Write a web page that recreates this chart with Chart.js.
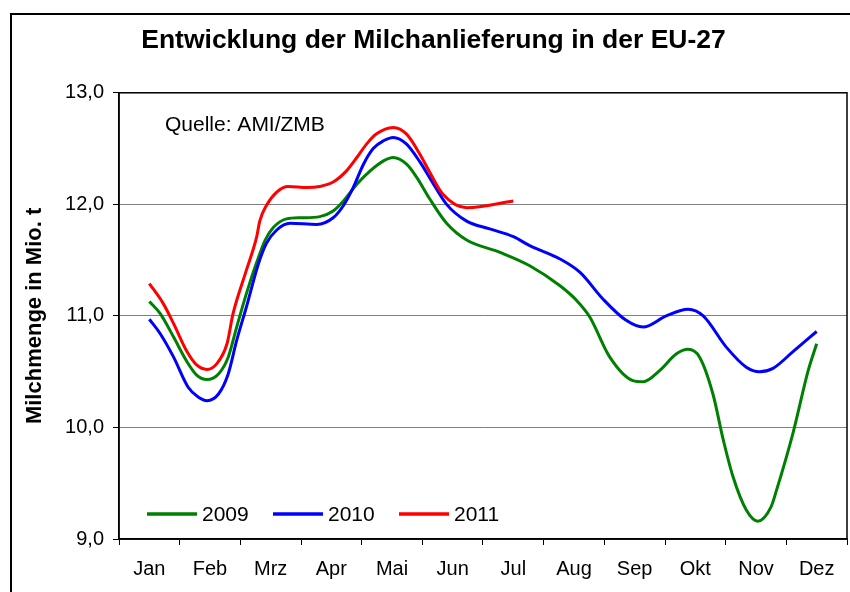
<!DOCTYPE html>
<html>
<head>
<meta charset="utf-8">
<script src="https://cdn.jsdelivr.net/npm/chart.js@4.4.1/dist/chart.umd.min.js"></script>
<style>
  html, body { margin: 0; padding: 0; background: #fff; }
  canvas { display: block; }
</style>
</head>
<body>
<canvas id="milkChart" width="850" height="592"></canvas>
<script>
// Monate (Kategorien der x-Achse)
var monthLabels = ['Jan', 'Feb', 'Mrz', 'Apr', 'Mai', 'Jun', 'Jul', 'Aug', 'Sep', 'Okt', 'Nov', 'Dez'];

// Position auf der Zeitachse (0 = Mitte Januar, 11 = Mitte Dezember) und Menge in Mio. t
var x2009 = [0, 0.18, 0.40, 0.62, 0.78, 0.95, 1.14, 1.30, 1.44, 1.60, 1.77, 1.91, 2.04, 2.26, 2.50, 2.81, 3.03, 3.20, 3.42, 3.64, 3.86, 4.02, 4.24, 4.41, 4.62, 4.90, 5.23, 5.78, 6.27, 6.77, 7.04, 7.26, 7.59, 7.97, 8.14, 8.41, 8.69, 8.88, 9.07, 9.29, 9.46, 9.62, 9.84, 10.03, 10.25, 10.34, 10.61, 10.86, 11.0];
var y2009 = [11.13, 11.02, 10.81, 10.59, 10.47, 10.43, 10.48, 10.63, 10.90, 11.20, 11.48, 11.68, 11.79, 11.87, 11.88, 11.89, 11.94, 12.03, 12.18, 12.30, 12.39, 12.42, 12.36, 12.24, 12.05, 11.83, 11.68, 11.57, 11.45, 11.27, 11.14, 10.99, 10.63, 10.42, 10.41, 10.51, 10.66, 10.70, 10.63, 10.30, 9.89, 9.56, 9.26, 9.16, 9.29, 9.44, 9.95, 10.51, 10.75];

var x2010 = [0, 0.18, 0.40, 0.64, 0.81, 0.95, 1.14, 1.30, 1.44, 1.60, 1.80, 1.93, 2.10, 2.32, 2.76, 3.03, 3.20, 3.36, 3.53, 3.69, 3.86, 4.02, 4.24, 4.46, 4.62, 4.90, 5.23, 5.61, 6.0, 6.27, 6.77, 7.10, 7.48, 7.86, 8.14, 8.52, 8.88, 9.13, 9.51, 9.84, 10.06, 10.28, 10.61, 11.0];
var y2010 = [10.97, 10.84, 10.63, 10.36, 10.27, 10.24, 10.30, 10.48, 10.78, 11.08, 11.47, 11.65, 11.77, 11.83, 11.82, 11.88, 11.99, 12.15, 12.36, 12.50, 12.57, 12.60, 12.54, 12.38, 12.24, 12.00, 11.85, 11.78, 11.71, 11.63, 11.51, 11.39, 11.15, 10.96, 10.90, 11.00, 11.06, 11.00, 10.72, 10.54, 10.50, 10.53, 10.68, 10.86];

var x2011 = [0, 0.23, 0.40, 0.62, 0.78, 0.95, 1.11, 1.28, 1.38, 1.60, 1.77, 1.82, 1.93, 2.10, 2.29, 2.60, 2.81, 3.03, 3.25, 3.42, 3.58, 3.74, 4.02, 4.24, 4.46, 4.62, 4.84, 5.23, 6.0];
var y2011 = [11.29, 11.11, 10.93, 10.68, 10.56, 10.52, 10.57, 10.75, 11.02, 11.41, 11.71, 11.85, 11.99, 12.11, 12.16, 12.15, 12.16, 12.20, 12.30, 12.42, 12.54, 12.63, 12.69, 12.63, 12.45, 12.29, 12.09, 11.97, 12.03];

var yTicks = [9, 10, 11, 12, 13];
var chartTitle = 'Entwicklung der Milchanlieferung in der EU-27';
var yTitle = 'Milchmenge in Mio. t';
var sourceNote = 'Quelle: AMI/ZMB';

var FONT = "'Liberation Sans', Arial, sans-serif";
Chart.defaults.font.family = FONT;
Chart.defaults.color = '#000';

function toPoints(xs, ys) {
    return xs.map(function (x, i) { return { x: x, y: ys[i] }; });
}

// Rahmen um das Bild und um die Zeichenfläche
var framePlugin = {
    id: 'frame',
    beforeDatasetsDraw: function (chart) {
        var ctx = chart.ctx, a = chart.chartArea;
        ctx.save();
        ctx.strokeStyle = '#000';
        ctx.lineWidth = 2;
        ctx.strokeRect(11, 14, chart.width + 20, chart.height + 20);
        ctx.lineWidth = 1.5;
        ctx.strokeRect(a.left, a.top, a.right - a.left, a.bottom - a.top);
        ctx.restore();
    }
};

// Quellenangabe und Legende innerhalb der Zeichenfläche
var notePlugin = {
    id: 'note',
    afterDraw: function (chart) {
        var ctx = chart.ctx, a = chart.chartArea;
        ctx.save();
        ctx.font = '21px ' + FONT;
        ctx.fillStyle = '#000';
        ctx.textBaseline = 'middle';
        ctx.textAlign = 'left';
        ctx.fillText(sourceNote, a.left + 46, a.top + 32);

        var ly = a.bottom - 25;
        chart.data.datasets.forEach(function (ds, i) {
            var lx = a.left + 28 + i * 126;
            ctx.strokeStyle = ds.borderColor;
            ctx.lineWidth = 3.5;
            ctx.beginPath();
            ctx.moveTo(lx, ly);
            ctx.lineTo(lx + 50, ly);
            ctx.stroke();
            ctx.fillText(ds.label, lx + 55, ly + 1);
        });
        ctx.restore();
    }
};

var ctx = document.getElementById('milkChart').getContext('2d');
var milkChart = new Chart(ctx, {
    type: 'line',
    data: {
        labels: monthLabels,
        datasets: [{
            label: '2009',
            data: toPoints(x2009, y2009),
            borderColor: '#008000',
            order: 2
        }, {
            label: '2010',
            data: toPoints(x2010, y2010),
            borderColor: '#0000ff',
            order: 1
        }, {
            label: '2011',
            data: toPoints(x2011, y2011),
            borderColor: '#ff0000',
            order: 0
        }]
    },
    options: {
        responsive: false,
        animation: false,
        devicePixelRatio: 1,
        layout: { padding: { left: 20, right: 3, top: 0, bottom: 0 } },
        elements: {
            line: { borderWidth: 3, cubicInterpolationMode: 'monotone', fill: false },
            point: { radius: 0 }
        },
        plugins: {
            legend: { display: false },
            tooltip: { enabled: false },
            title: {
                display: true,
                text: chartTitle,
                color: '#000',
                font: { size: 26.5, weight: 'bold' },
                padding: { top: 25, bottom: 36 }
            }
        },
        scales: {
            x: {
                type: 'linear',
                min: -0.5,
                max: 11.5,
                display: false
            },
            xm: {
                type: 'category',
                position: 'bottom',
                labels: monthLabels,
                offset: true,
                grid: { offset: true, drawOnChartArea: false, tickLength: 6, color: '#000' },
                border: { display: true, color: '#000', width: 1.5 },
                ticks: { font: { size: 20 }, color: '#000', padding: 12, maxRotation: 0, autoSkip: false },
                afterFit: function (s) { s.height = 53; }
            },
            y: {
                min: 9,
                max: 13,
                afterBuildTicks: function (s) { s.ticks = yTicks.map(function (v) { return { value: v }; }); },
                grid: { color: '#808080', tickColor: '#000', tickLength: 6, lineWidth: 1 },
                border: { display: true, color: '#000', width: 1.5 },
                ticks: {
                    font: { size: 20 },
                    color: '#000',
                    padding: 9,
                    callback: function (v) { return v.toFixed(1).replace('.', ','); }
                },
                title: {
                    display: true,
                    text: yTitle,
                    color: '#000',
                    font: { size: 22, weight: 'bold' },
                    padding: { top: 2, bottom: 0 }
                },
                afterFit: function (s) { s.width = 99; }
            }
        }
    },
    plugins: [framePlugin, notePlugin]
});
</script>
</body>
</html>
